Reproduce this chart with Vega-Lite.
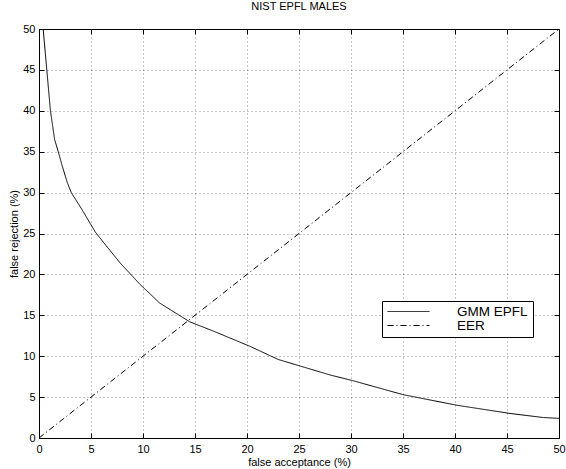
{
  "$schema": "https://vega.github.io/schema/vega-lite/v6.json",
  "width": 520,
  "height": 409,
  "autosize": {"type": "none"},
  "padding": {"left": 39, "top": 29, "right": 7, "bottom": 31},
  "background": "white",
  "title": {"text": "NIST EPFL MALES", "fontSize": 11, "font": "Liberation Sans", "fontWeight": "normal", "color": "black", "offset": 11},
  "datasets": {
    "curves": [
      {"fa": 0.4, "fr": 50, "series": "GMM EPFL"},
      {"fa": 0.75, "fr": 45, "series": "GMM EPFL"},
      {"fa": 1.1, "fr": 40, "series": "GMM EPFL"},
      {"fa": 1.5, "fr": 36.5, "series": "GMM EPFL"},
      {"fa": 1.85, "fr": 35, "series": "GMM EPFL"},
      {"fa": 2.2, "fr": 33.4, "series": "GMM EPFL"},
      {"fa": 2.7, "fr": 31.3, "series": "GMM EPFL"},
      {"fa": 3.1, "fr": 30, "series": "GMM EPFL"},
      {"fa": 4.1, "fr": 28, "series": "GMM EPFL"},
      {"fa": 5.4, "fr": 25.2, "series": "GMM EPFL"},
      {"fa": 6.4, "fr": 23.6, "series": "GMM EPFL"},
      {"fa": 7.8, "fr": 21.4, "series": "GMM EPFL"},
      {"fa": 9.7, "fr": 18.8, "series": "GMM EPFL"},
      {"fa": 11.6, "fr": 16.5, "series": "GMM EPFL"},
      {"fa": 14.5, "fr": 14.2, "series": "GMM EPFL"},
      {"fa": 16.9, "fr": 13.0, "series": "GMM EPFL"},
      {"fa": 20.3, "fr": 11.2, "series": "GMM EPFL"},
      {"fa": 23.0, "fr": 9.6, "series": "GMM EPFL"},
      {"fa": 28.0, "fr": 7.7, "series": "GMM EPFL"},
      {"fa": 30.2, "fr": 7.0, "series": "GMM EPFL"},
      {"fa": 35.0, "fr": 5.3, "series": "GMM EPFL"},
      {"fa": 40.2, "fr": 4.0, "series": "GMM EPFL"},
      {"fa": 45.3, "fr": 3.0, "series": "GMM EPFL"},
      {"fa": 48.5, "fr": 2.5, "series": "GMM EPFL"},
      {"fa": 50, "fr": 2.4, "series": "GMM EPFL"},
      {"fa": 0, "fr": 0, "series": "EER"},
      {"fa": 50, "fr": 50, "series": "EER"}
    ]
  },
  "data": {"name": "curves"},
  "config": {
    "view": {"stroke": "black", "strokeWidth": 1},
    "axis": {
      "domainColor": "black",
      "domainWidth": 1,
      "tickColor": "black",
      "tickSize": -5,
      "tickWidth": 1,
      "labelFont": "Liberation Sans",
      "labelFontSize": 11,
      "labelColor": "black",
      "titleFont": "Liberation Sans",
      "titleFontSize": 11,
      "titleFontWeight": "normal",
      "titleColor": "black",
      "gridColor": "black",
      "gridDash": [1, 3],
      "gridWidth": 1,
      "gridOpacity": 0.45
    }
  },
  "resolve": {"axis": {"x": "independent", "y": "independent"}},
  "layer": [
    {
      "mark": {"type": "line", "strokeWidth": 1, "clip": true},
      "encoding": {
        "x": {
          "field": "fa", "type": "quantitative",
          "scale": {"domain": [0, 50], "nice": false, "zero": false},
          "axis": {"orient": "bottom", "values": [0,5,10,15,20,25,30,35,40,45,50], "title": "false acceptance (%)", "grid": true, "labelPadding": 10, "titlePadding": 2, "labelFlush": false}
        },
        "y": {
          "field": "fr", "type": "quantitative",
          "scale": {"domain": [0, 50], "nice": false, "zero": false},
          "axis": {"orient": "left", "values": [0,5,10,15,20,25,30,35,40,45,50], "title": "false rejection (%)", "grid": true, "labelPadding": 9, "titlePadding": 3, "labelFlush": false}
        },
        "color": {
          "field": "series", "type": "nominal",
          "scale": {"domain": ["GMM EPFL", "EER"], "range": ["black", "black"]},
          "legend": {
            "title": null,
            "orient": "none",
            "legendX": 343,
            "legendY": 272,
            "direction": "vertical",
            "strokeColor": "black",
            "fillColor": "white",
            "padding": 5,
            "symbolType": "stroke",
            "symbolSize": 1764,
            "symbolStrokeWidth": 1,
            "clipHeight": 11,
            "rowPadding": 0,
            "labelOffset": 27,
            "labelFont": "Liberation Sans",
            "labelFontSize": 13.5,
            "labelColor": "black",
            "labelLimit": 200
          }
        },
        "strokeDash": {
          "field": "series", "type": "nominal",
          "scale": {"domain": ["GMM EPFL", "EER"], "range": [[1, 0], [6, 3, 1, 3]]},
          "legend": null
        },
        "order": {"field": "fa", "type": "quantitative"}
      }
    },
    {
      "mark": {"type": "line", "opacity": 0},
      "encoding": {
        "x": {
          "field": "fa", "type": "quantitative",
          "axis": {"orient": "top", "values": [0,5,10,15,20,25,30,35,40,45,50], "labels": false, "title": null, "grid": false}
        },
        "y": {
          "field": "fr", "type": "quantitative",
          "axis": {"orient": "right", "values": [0,5,10,15,20,25,30,35,40,45,50], "labels": false, "title": null, "grid": false}
        },
        "detail": {"field": "series"}
      }
    }
  ]
}
